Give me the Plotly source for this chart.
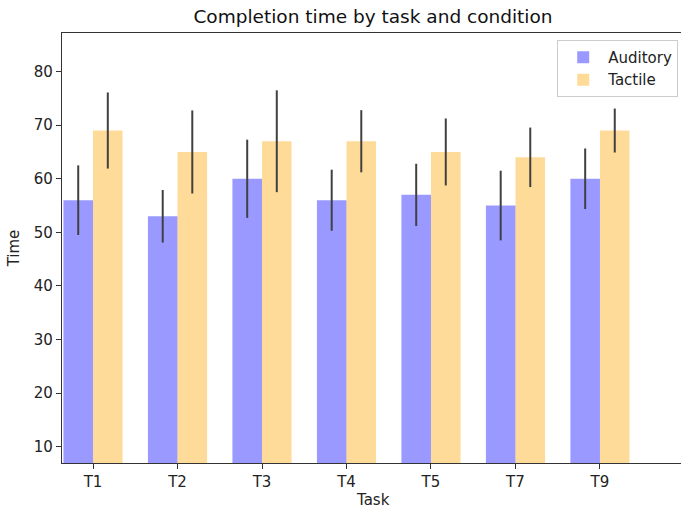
import plotly.graph_objects as go

# Mean completion time per task, with standard deviation, for each condition
tasks = ["T1", "T2", "T3", "T4", "T5", "T7", "T9"]
auditory_mean = [56, 53, 60, 56, 57, 55, 60]
auditory_sd = [6.5, 4.9, 7.3, 5.7, 5.8, 6.5, 5.65]
tactile_mean = [69, 65, 67, 67, 65, 64, 69]
tactile_sd = [7.1, 7.75, 9.5, 5.8, 6.25, 5.55, 4.1]

bar_width = 0.35
index = list(range(len(tasks)))

font_family = "DejaVu Sans"
err_color = "#404040"

fig = go.Figure()
fig.add_trace(go.Bar(
    x=[i for i in index], y=auditory_mean, width=bar_width,
    name="Auditory",
    marker=dict(color="rgba(0,0,255,0.4)", line=dict(width=0)),
    error_y=dict(type="data", array=auditory_sd, visible=True,
                 color=err_color, thickness=2, width=0),
))
fig.add_trace(go.Bar(
    x=[i + bar_width for i in index], y=tactile_mean, width=bar_width,
    name="Tactile",
    marker=dict(color="rgba(255,165,0,0.4)", line=dict(width=0)),
    error_y=dict(type="data", array=tactile_sd, visible=True,
                 color=err_color, thickness=2, width=0),
))

fig.update_layout(
    width=681, height=508,
    barmode="overlay",
    plot_bgcolor="white", paper_bgcolor="white",
    margin=dict(l=62, r=0, t=33, b=45),
    font=dict(family=font_family, size=15, color="#222"),
    title=dict(text="Completion time by task and condition",
               x=373 / 681, xanchor="center", xref="container",
               y=1 - 17 / 508, yanchor="middle", yref="container",
               font=dict(size=18.5, color="#111")),
    legend=dict(x=0.8, y=0.984, xanchor="left", yanchor="top",
                bgcolor="rgba(255,255,255,0.8)", bordercolor="#cccccc",
                borderwidth=1, font=dict(size=15, color="#222"),
                itemwidth=40, tracegroupgap=0),
    showlegend=True,
    annotations=[dict(text="Task", xref="paper", yref="paper",
                      x=(373 - 62) / 619, y=-(510 - 463) / 430,
                      xanchor="center", yanchor="bottom", showarrow=False,
                      borderpad=0, font=dict(size=15, color="#222"))],
)

fig.update_xaxes(
    range=[-0.192, 7.134],
    tickmode="array",
    tickvals=[i + bar_width / 2 for i in index],
    ticktext=tasks,
    ticks="outside", ticklen=5, tickwidth=1, tickcolor="#333",
    showline=True, linecolor="#333", linewidth=1.2, mirror=True,
    showgrid=False, zeroline=False, automargin=False,
)
fig.update_yaxes(
    range=[6.96, 87.2],
    tickmode="array", tickvals=[10, 20, 30, 40, 50, 60, 70, 80],
    ticks="outside", ticklen=5, tickwidth=1, tickcolor="#333",
    showline=True, linecolor="#333", linewidth=1.2, mirror=False,
    showgrid=False, zeroline=False, automargin=False,
    title=dict(text="Time", font=dict(size=15), standoff=10),
)

fig.write_html("out.html")
